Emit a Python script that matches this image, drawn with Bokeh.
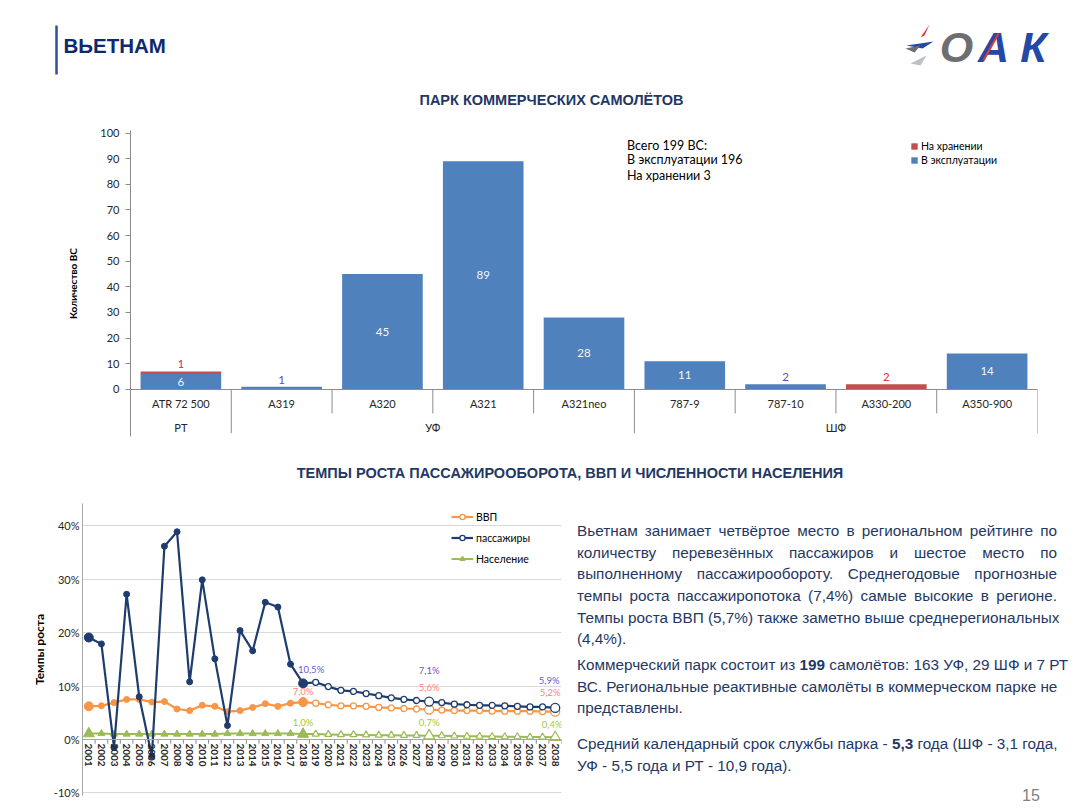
from bokeh.plotting import figure
from bokeh.models import (FactorRange, Range1d, FixedTicker, Legend, LegendItem, Plot,
                          ColumnDataSource, Div, PrintfTickFormatter)
from bokeh.transform import dodge
from bokeh.layouts import column, row
from bokeh.embed import file_html
from bokeh.resources import INLINE
from bokeh.core.properties import value

# ---------------- data ----------------
fleet_groups = ["РТ", "УФ", "УФ", "УФ", "УФ", "ШФ", "ШФ", "ШФ", "ШФ"]
fleet_types = ["ATR 72 500", "A319", "A320", "A321", "A321neo", "787-9", "787-10", "A330-200", "A350-900"]
in_service = [6, 1, 45, 89, 28, 11, 2, 0, 14]
in_storage = [1, 0, 0, 0, 0, 0, 0, 2, 0]
fleet_ticks = [0, 10, 20, 30, 40, 50, 60, 70, 80, 90, 100]
fleet_note = ["Всего 199 ВС:", "В эксплуатации 196", "На хранении 3"]

years = [str(y) for y in range(2001, 2039)]
passengers = [19.1, 17.9, -1.5, 27.2, 8.0, -3.1, 36.2, 38.9, 10.8, 29.9, 15.1, 2.6, 20.4, 16.6, 25.7, 24.8, 14.1, 10.5,
              10.7, 9.9, 9.2, 9.0, 8.6, 8.2, 7.8, 7.5, 7.3, 7.1, 6.9, 6.6, 6.5, 6.4, 6.4, 6.3, 6.2, 6.1, 6.1, 5.9]
gdp = [6.2, 6.3, 6.9, 7.5, 7.5, 7.0, 7.1, 5.7, 5.4, 6.4, 6.2, 5.2, 5.4, 6.0, 6.7, 6.2, 6.8, 7.0,
       6.8, 6.5, 6.3, 6.3, 6.2, 6.0, 5.9, 5.8, 5.7, 5.6, 5.5, 5.4, 5.4, 5.4, 5.3, 5.3, 5.3, 5.3, 5.2, 5.2]
population = [1.1, 1.1, 1.0, 1.0, 1.0, 1.0, 1.0, 1.0, 1.0, 1.0, 1.0, 1.1, 1.1, 1.1, 1.1, 1.1, 1.1, 1.0,
              1.0, 0.95, 0.9, 0.9, 0.85, 0.8, 0.8, 0.75, 0.75, 0.7, 0.7, 0.65, 0.6, 0.6, 0.55, 0.5, 0.5, 0.45, 0.45, 0.4]
growth_ticks = [-10, 0, 10, 20, 30, 40]
last_actual_year = "2018"
labelled_years = ["2018", "2028", "2038"]

para1 = ["Вьетнам занимает четвёртое место в региональном рейтинге по",
         "количеству перевезённых пассажиров и шестое место по",
         "выполненному пассажирообороту. Среднегодовые прогнозные",
         "темпы роста пассажиропотока (7,4%) самые высокие в регионе.",
         "Темпы роста ВВП (5,7%) также заметно выше среднерегиональных",
         "(4,4%)."]
para2 = ["Коммерческий парк состоит из <b>199</b> самолётов: 163 УФ, 29 ШФ и 7 РТ",
         "ВС. Региональные реактивные самолёты в коммерческом парке не",
         "представлены."]
para3 = ["Средний календарный срок службы парка - <b>5,3</b> года (ШФ - 3,1 года,",
         "УФ - 5,5 года и РТ - 10,9 года)."]

# ---------------- styles ----------------
NAVY = "#1F3864"
BLUE = "#4F81BD"
RED = "#C0504D"
PASS_C = "#1F3C6E"
GDP_C = "#F79646"
POP_C = "#9BBB59"
AXIS_C = "#8C8C8C"
TXT = "#262626"
CAL = "Lato"
ARIAL = "Liberation Sans"
FA = {"frame_align": False} if "frame_align" in Plot.properties() else {}


def blank(w, h, y_top, x_left=-8):
    f = figure(width=w, height=h, x_range=Range1d(x_left, x_left + w), y_range=Range1d(y_top + h, y_top),
               x_axis_type=None, y_axis_type=None, output_backend="svg",
               toolbar_location=None, min_border=0, title=None, **FA)
    f.grid.visible = False
    f.outline_line_color = None
    return f


# ---------------- header (coordinates relative to an 8px inset) ----------------
hdr = blank(1072, 110, -8)
hdr.segment(x0=[48], y0=[17], x1=[48], y1=[66], line_color="#2F4F9F", line_width=2.5)
hdr.text(x=[55], y=[37], text=["ВЬЕТНАМ"], text_font=value(ARIAL),
         text_font_size="20.5px", text_font_style="bold", text_color="#0E2A6E",
         text_baseline="middle", text_align="left")
# logo
hdr.patches(xs=[[912, 921, 916], [898, 925, 914], [897, 912, 906], [902, 918, 912]],
            ys=[[29, 16, 27], [37, 33, 40], [40, 37, 44], [55, 47, 57]],
            fill_color=["#E03A3A", "#2348A5", "#6D6E71", "#BFC0C2"], line_color=None)
hdr.text(x=[948, 985, 1025], y=[38, 38, 38], text=["О", "А", "К"],
         text_font=value(ARIAL), text_font_size="43px", text_font_style="bold italic",
         text_color=["#6D6E71", "#2348A5", "#2348A5"], text_baseline="middle", text_align="center")
hdr.segment(x0=[975], y0=[52], x1=[990], y1=[25], line_color="#E03A3A", line_width=2)
hdr.text(x=[543], y=[91], text=["ПАРК КОММЕРЧЕСКИХ САМОЛЁТОВ"], text_font=value(ARIAL),
         text_font_size="14.5px", text_font_style="bold", text_color=NAVY,
         text_baseline="middle", text_align="center")

# ---------------- bar chart ----------------
factors = list(zip(fleet_groups, fleet_types))
xr = FactorRange(*factors, factor_padding=0, group_padding=0, range_padding=0)
bar = figure(width=1072, height=340, x_range=xr, y_range=Range1d(-18.4, 101), title=None,
             output_backend="svg", toolbar_location=None,
             min_border_left=130, min_border_right=35, min_border_top=20, min_border_bottom=14, **FA)
bar.outline_line_color = None
bar.grid.visible = False

src = ColumnDataSource(dict(x=factors, op=in_service, st=in_storage))
r_op, r_st = bar.vbar_stack(["op", "st"], x="x", width=0.8, fill_color=[BLUE, RED],
                            line_color=None, source=src)

lab_x, lab_y, lab_t, lab_c = [], [], [], []
for f, o, s in zip(factors, in_service, in_storage):
    if o > 0:
        lab_x.append(f)
        lab_t.append(str(o))
        if o >= 5:
            lab_y.append(o / 2)
            lab_c.append("#F4F6FA")
        else:
            lab_y.append(o + 2.75)
            lab_c.append("#5B4FB5")
    if s > 0:
        lab_x.append(f)
        lab_t.append(str(s))
        lab_y.append(o + s + 2.75)
        lab_c.append("#E53030" if o == 0 else "#A3406A")
bar.text(x=lab_x, y=lab_y, text=lab_t, text_color=lab_c, text_font=value(CAL),
         text_font_size="11.5px", text_align="center", text_baseline="middle")

# category boundaries
group_start = [i == 0 or fleet_groups[i] != fleet_groups[i - 1] for i in range(len(factors))]
edge_src = ColumnDataSource(dict(x=factors, y0=[0] * len(factors),
                                 y1=[-17.1 if g else -9.4 for g in group_start]))
bar.segment(x0=dodge("x", -0.5, range=xr), y0="y0", x1=dodge("x", -0.5, range=xr), y1="y1",
            source=edge_src, line_color=AXIS_C, line_width=1)
bar.segment(x0=dodge("x", 0.5, range=xr), y0="y0", x1=dodge("x", 0.5, range=xr), y1="y1",
            source=ColumnDataSource(dict(x=[factors[-1]], y0=[0], y1=[-17.1])),
            line_color=AXIS_C, line_width=1)

xa = bar.xaxis[0]
xa.fixed_location = 0
xa.major_tick_line_color = None
xa.major_tick_out = 0
xa.major_tick_in = 0
xa.separator_line_color = None
xa.axis_line_color = AXIS_C
xa.major_label_text_font = CAL
xa.major_label_text_font_size = "11px"
xa.major_label_text_color = TXT
xa.major_label_standoff = 8
xa.group_text_font = CAL
xa.group_text_font_size = "11px"
xa.group_text_font_style = "normal"
xa.group_text_color = TXT

ya = bar.yaxis[0]
ya.ticker = FixedTicker(ticks=fleet_ticks)
ya.minor_tick_line_color = None
ya.major_tick_out = 5
ya.major_tick_in = 0
ya.major_tick_line_color = AXIS_C
ya.axis_line_color = AXIS_C
ya.major_label_text_font = CAL
ya.major_label_text_font_size = "11px"
ya.major_label_text_color = TXT
ya.major_label_standoff = 6
ya.axis_label = "Количество ВС"
ya.axis_label_text_font = CAL
ya.axis_label_text_font_size = "10px"
ya.axis_label_text_font_style = "bold"
ya.axis_label_text_color = "#000000"
ya.axis_label_standoff = 18

note_x = [("УФ", "A321neo")] * len(fleet_note)
bar.text(x=note_x, y=[95.3, 89.5, 83.6], text=fleet_note, x_offset=43, text_font=value(CAL),
         text_font_size="12.5px", text_color="#000000", text_align="left", text_baseline="middle")

bleg = Legend(items=[LegendItem(label="На хранении", renderers=[r_st]),
                     LegendItem(label="В эксплуатации", renderers=[r_op])],
              location=(780, 270), glyph_width=8, glyph_height=8, label_height=12, label_width=10,
              spacing=2, padding=0, margin=0, label_standoff=3,
              label_text_font=CAL, label_text_font_size="10.5px", label_text_color="#000000",
              border_line_color=None, background_fill_alpha=0)
bar.add_layout(bleg)

# ---------------- second title ----------------
t2 = blank(1072, 45, 0, x_left=0)
t2.text(x=[569.5], y=[22], text=["ТЕМПЫ РОСТА ПАССАЖИРООБОРОТА, ВВП И ЧИСЛЕННОСТИ НАСЕЛЕНИЯ"],
        text_font=value(ARIAL), text_font_size="14.5px", text_font_style="bold", text_color=NAVY,
        text_baseline="middle", text_align="center")

# ---------------- line chart ----------------
lx = FactorRange(*years, range_padding=0)
ln = figure(width=568, height=306, x_range=lx, y_range=Range1d(-10.5, 44.2), title=None,
            output_backend="svg", toolbar_location=None,
            min_border_left=82, min_border_right=7, min_border_top=8, min_border_bottom=6, **FA)
ln.outline_line_color = None
ln.xgrid.visible = False
ln.ygrid.ticker = FixedTicker(ticks=growth_ticks)
ln.ygrid.grid_line_color = "#D9D9D9"

n_act = years.index(last_actual_year) + 1
act_years, fc_years = years[:n_act], years[n_act:]
act_size = [9 if y in (years[0], last_actual_year) else 6 for y in act_years]
fc_size = [9 if y in labelled_years else 6 for y in fc_years]
act_tri = [11 if y in (years[0], last_actual_year) else 7 for y in act_years]
fc_tri = [11 if y in labelled_years else 7 for y in fc_years]

# boundary ticks on the category axis
ln.segment(x0=dodge("x", -0.5, range=lx), y0="y0", x1=dodge("x", -0.5, range=lx), y1="y1",
           source=ColumnDataSource(dict(x=years, y0=[0] * len(years), y1=[-0.8] * len(years))),
           line_color=AXIS_C, line_width=1)
ln.segment(x0=dodge("x", 0.5, range=lx), y0="y0", x1=dodge("x", 0.5, range=lx), y1="y1",
           source=ColumnDataSource(dict(x=[years[-1]], y0=[0], y1=[-0.8])),
           line_color=AXIS_C, line_width=1)

l_pop = ln.line(years, population, line_color=POP_C, line_width=2)
s_pop_a = ln.scatter(act_years, population[:n_act], marker="triangle", size=act_tri,
                     fill_color=POP_C, line_color=POP_C)
ln.scatter(fc_years, population[n_act:], marker="triangle", size=fc_tri,
           fill_color="white", line_color=POP_C, line_width=1.2)

l_gdp = ln.line(years, gdp, line_color=GDP_C, line_width=2.2)
ln.scatter(act_years, gdp[:n_act], marker="circle", size=act_size, fill_color=GDP_C, line_color=GDP_C)
s_gdp_f = ln.scatter(fc_years, gdp[n_act:], marker="circle", size=fc_size,
                     fill_color="white", line_color=GDP_C, line_width=1.3)

l_pas = ln.line(years, passengers, line_color=PASS_C, line_width=2.2)
ln.scatter(act_years, passengers[:n_act], marker="circle", size=act_size, fill_color=PASS_C, line_color=PASS_C)
s_pas_f = ln.scatter(fc_years, passengers[n_act:], marker="circle", size=fc_size,
                     fill_color="white", line_color=PASS_C, line_width=1.3)


def fmt(v):
    return f"{v:.1f}".replace(".", ",") + "%"


series_labels = [
    (passengers, "#6A5ACD", [2.6, 5.8, 5.1], [8, 0, -6]),
    (gdp, "#FF7F7F", [1.9, 4.1, 3.6], [0, 0, -5]),
    (population, "#A3CC3A", [2.1, 2.4, 2.4], [0, 0, -3]),
]
for vals, col, dys, dxs in series_labels:
    vs = [vals[years.index(y)] for y in labelled_years]
    ln.text(x=labelled_years, y=[v + d for v, d in zip(vs, dys)], text=[fmt(v) for v in vs],
            x_offset=dxs, text_color=col, text_font=value(CAL), text_font_size="9.5px",
            text_align="center", text_baseline="middle")

lxa = ln.xaxis[0]
lxa.fixed_location = 0
lxa.major_tick_line_color = None
lxa.major_tick_out = 0
lxa.major_tick_in = 0
lxa.axis_line_color = "#A6A6A6"
lxa.major_label_orientation = "vertical"
lxa.major_label_text_font = CAL
lxa.major_label_text_font_size = "10px"
lxa.major_label_text_font_style = "bold"
lxa.major_label_text_color = TXT
lxa.major_label_standoff = 4

lya = ln.yaxis[0]
lya.ticker = FixedTicker(ticks=growth_ticks)
lya.formatter = PrintfTickFormatter(format="%d%%")
lya.minor_tick_line_color = None
lya.major_tick_line_color = None
lya.major_tick_out = 0
lya.major_tick_in = 0
lya.axis_line_color = "#A6A6A6"
lya.major_label_text_font = CAL
lya.major_label_text_font_size = "11px"
lya.major_label_text_color = TXT
lya.major_label_standoff = 3
lya.axis_label = "Темпы роста"
lya.axis_label_text_font = CAL
lya.axis_label_text_font_size = "12px"
lya.axis_label_text_font_style = "bold"
lya.axis_label_text_color = "#000000"
lya.axis_label_standoff = 4

lleg = Legend(items=[LegendItem(label="ВВП", renderers=[l_gdp, s_gdp_f]),
                     LegendItem(label="пассажиры", renderers=[l_pas, s_pas_f]),
                     LegendItem(label="Население", renderers=[l_pop, s_pop_a])],
              location=(369, 230), glyph_width=22, glyph_height=13, label_height=13,
              spacing=8, padding=0, margin=0, label_standoff=3,
              label_text_font=CAL, label_text_font_size="10.5px", label_text_color="#000000",
              border_line_color=None, background_fill_alpha=0)
ln.add_layout(lleg)

# ---------------- text block ----------------


def lines_html(lines, gap):
    out = []
    for i, t in enumerate(lines):
        last = i == len(lines) - 1
        al = "left" if last else "justify"
        mt = f"margin-top:{gap}px;" if i == 0 else ""
        out.append(f'<div style="{mt}height:21.6px;line-height:21.6px;white-space:nowrap;'
                   f'text-align:{al};text-align-last:{al};">{t}</div>')
    return "".join(out)


html = ('<div style="position:relative;width:504px;height:306px;">'
        '<div style="position:absolute;left:9px;top:0px;width:480px;'
        "font-family:'Liberation Sans',Arial,sans-serif;font-size:15.3px;color:#1F3864;\">"
        + lines_html(para1, 25.2) + lines_html(para2, 4.4) + lines_html(para3, 14.4) +
        '</div>'
        '<div style="position:absolute;left:454px;top:290px;font-family:\'Liberation Sans\',Arial,sans-serif;'
        'font-size:16px;color:#7F7F7F;">15</div>'
        '</div>')
txt = Div(text=html, width=504, height=306, margin=0)

p = column(hdr, bar, t2, row(ln, txt, spacing=0), spacing=0)

open("out.html", "w").write(file_html(p, INLINE))
